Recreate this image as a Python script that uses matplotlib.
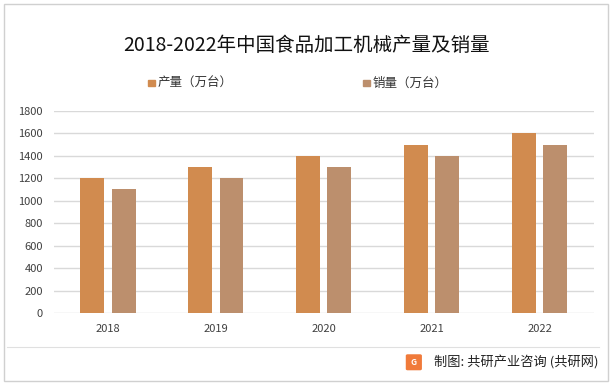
import numpy as np
import matplotlib.pyplot as plt
from matplotlib.patches import Rectangle, FancyBboxPatch

plt.rcParams['font.family'] = ['Noto Sans CJK SC', 'DejaVu Sans']

# Data
years = ['2018', '2019', '2020', '2021', '2022']
production = [1200, 1300, 1400, 1500, 1600]
sales = [1100, 1200, 1300, 1400, 1500]
yticks = [0, 200, 400, 600, 800, 1000, 1200, 1400, 1600, 1800]

c_prod = '#D18B4F'
c_sales = '#BC8F6D'

fig = plt.figure(figsize=(6.14, 3.85), dpi=100)
ax = fig.add_axes([0.088, 0.187, 0.879, 0.525])

x = np.arange(len(years))
w = 0.222
off = 0.144
ax.bar(x - off, production, w, color=c_prod, label='产量（万台）', zorder=3)
ax.bar(x + off, sales, w, color=c_sales, label='销量（万台）', zorder=3)

ax.set_xlim(-0.5, len(years) - 0.5)
ax.set_ylim(0, 1800)
ax.set_yticks(yticks)
ax.set_xticks(x)
ax.set_xticklabels(years)
ax.tick_params(axis='both', length=0, labelsize=8, colors='#404040')
ax.tick_params(axis='x', pad=8)
ax.tick_params(axis='y', pad=8)
ax.grid(axis='y', color='#D9D9D9', linewidth=1, zorder=0)
for s in ax.spines.values():
    s.set_visible(False)

fig.text(0.5, 0.883, '2018-2022年中国食品加工机械产量及销量', ha='center', va='center',
         fontsize=14, color='#111111')

# legend
for lx, lab, c in [(0.241, '产量（万台）', c_prod), (0.591, '销量（万台）', c_sales)]:
    fig.patches.append(Rectangle((lx, 0.776), 0.011, 0.017, transform=fig.transFigure,
                                 color=c, figure=fig))
    fig.text(lx + 0.016, 0.784, lab, ha='left', va='center', fontsize=9, color='#333333')

# source line and text
fig.add_artist(plt.Line2D([0.012, 0.975], [0.099, 0.099], transform=fig.transFigure,
                          color='#E0E0E0', linewidth=0.8))
fig.patches.append(FancyBboxPatch((0.664, 0.042), 0.02, 0.034, boxstyle='round,pad=0.002',
                                  transform=fig.transFigure, color='#F07A3A', figure=fig))
fig.text(0.674, 0.059, 'G', ha='center', va='center', fontsize=6, color='white',
         fontweight='bold')
fig.text(0.974, 0.059, '制图: 共研产业咨询 (共研网)', ha='right', va='center',
         fontsize=9.5, color='#222222')

# outer border
fig.patches.append(Rectangle((0.006, 0.01), 0.985, 0.98, transform=fig.transFigure,
                             fill=False, edgecolor='#D0D0D0', linewidth=1, figure=fig))

fig.savefig('out.png', dpi=100)
